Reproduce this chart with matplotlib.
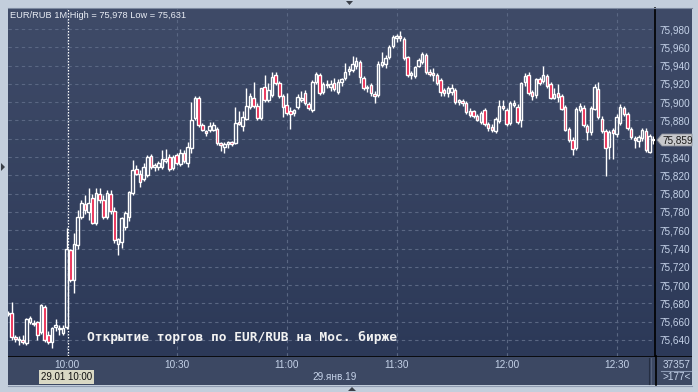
import matplotlib
matplotlib.use("Agg")
import numpy as np
import matplotlib.pyplot as plt
from matplotlib.colors import LinearSegmentedColormap
from matplotlib.patches import Rectangle, Polygon
from matplotlib.lines import Line2D

# EUR/RUB, 1-minute candles, 29.01.2019, 09:44 .. 12:40 (177 bars)
opens = [
    75.670, 75.670, 75.643, 75.640, 75.640, 75.637, 75.660, 75.659, 75.660, 75.649,
    75.676, 75.646, 75.638, 75.654, 75.653, 75.648, 75.654, 75.738, 75.706, 75.744,
    75.774, 75.789, 75.780, 75.795, 75.768, 75.800, 75.793, 75.774, 75.800, 75.781,
    75.745, 75.747, 75.764, 75.774, 75.801, 75.827, 75.822, 75.816, 75.820, 75.841,
    75.829, 75.829, 75.829, 75.836, 75.840, 75.828, 75.842, 75.832, 75.845, 75.834,
    75.850, 75.883, 75.905, 75.875, 75.868, 75.870, 75.870, 75.871, 75.855, 75.851,
    75.854, 75.856, 75.855, 75.878, 75.874, 75.882, 75.895, 75.905, 75.896, 75.883,
    75.917, 75.902, 75.908, 75.930, 75.921, 75.907, 75.897, 75.890, 75.888, 75.895,
    75.902, 75.910, 75.898, 75.891, 75.922, 75.930, 75.911, 75.920, 75.917, 75.921,
    75.911, 75.922, 75.926, 75.934, 75.935, 75.940, 75.944, 75.926, 75.915, 75.919,
    75.909, 75.908, 75.941, 75.942, 75.949, 75.961, 75.970, 75.972, 75.969, 75.949,
    75.930, 75.929, 75.940, 75.944, 75.952, 75.933, 75.932, 75.930, 75.924, 75.913,
    75.910, 75.911, 75.913, 75.900, 75.901, 75.899, 75.890, 75.890, 75.885, 75.878,
    75.892, 75.876, 75.873, 75.869, 75.879, 75.896, 75.892, 75.877, 75.897, 75.895,
    75.880, 75.922, 75.930, 75.911, 75.908, 75.925, 75.923, 75.929, 75.920, 75.905,
    75.910, 75.907, 75.895, 75.871, 75.859, 75.850, 75.892, 75.894, 75.874, 75.867,
    75.893, 75.914, 75.882, 75.868, 75.851, 75.870, 75.865, 75.877, 75.894, 75.887,
    75.871, 75.861, 75.858, 75.861, 75.869, 75.846, 75.860,
]
highs = [
    75.672, 75.682, 75.645, 75.644, 75.645, 75.664, 75.666, 75.662, 75.661, 75.679,
    75.678, 75.650, 75.654, 75.663, 75.656, 75.656, 75.762, 75.740, 75.757, 75.782,
    75.793, 75.798, 75.806, 75.800, 75.806, 75.806, 75.799, 75.804, 75.804, 75.785,
    75.752, 75.775, 75.781, 75.803, 75.837, 75.831, 75.826, 75.833, 75.842, 75.843,
    75.834, 75.836, 75.848, 75.849, 75.843, 75.842, 75.845, 75.849, 75.848, 75.856,
    75.900, 75.907, 75.907, 75.877, 75.870, 75.878, 75.878, 75.873, 75.857, 75.856,
    75.858, 75.858, 75.895, 75.890, 75.890, 75.915, 75.910, 75.922, 75.899, 75.916,
    75.930, 75.921, 75.933, 75.933, 75.923, 75.909, 75.910, 75.895, 75.893, 75.909,
    75.912, 75.913, 75.900, 75.924, 75.933, 75.932, 75.922, 75.924, 75.924, 75.926,
    75.925, 75.927, 75.943, 75.940, 75.951, 75.949, 75.946, 75.929, 75.919, 75.921,
    75.912, 75.945, 75.955, 75.952, 75.962, 75.973, 75.975, 75.978, 75.971, 75.951,
    75.934, 75.940, 75.948, 75.955, 75.954, 75.936, 75.937, 75.932, 75.926, 75.915,
    75.918, 75.920, 75.915, 75.903, 75.904, 75.901, 75.894, 75.892, 75.887, 75.890,
    75.894, 75.878, 75.876, 75.884, 75.902, 75.902, 75.894, 75.901, 75.902, 75.898,
    75.922, 75.932, 75.933, 75.913, 75.927, 75.928, 75.940, 75.931, 75.922, 75.916,
    75.920, 75.909, 75.897, 75.873, 75.862, 75.895, 75.899, 75.897, 75.876, 75.896,
    75.920, 75.922, 75.885, 75.871, 75.870, 75.872, 75.887, 75.898, 75.896, 75.889,
    75.873, 75.863, 75.864, 75.872, 75.872, 75.865, 75.863,
]
lows = [
    75.666, 75.640, 75.638, 75.635, 75.636, 75.635, 75.658, 75.655, 75.640, 75.647,
    75.638, 75.636, 75.631, 75.650, 75.645, 75.646, 75.652, 75.703, 75.691, 75.740,
    75.772, 75.778, 75.771, 75.767, 75.766, 75.790, 75.772, 75.772, 75.778, 75.746,
    75.733, 75.741, 75.760, 75.770, 75.799, 75.820, 75.807, 75.814, 75.818, 75.827,
    75.825, 75.826, 75.827, 75.834, 75.825, 75.826, 75.831, 75.830, 75.834, 75.829,
    75.845, 75.880, 75.873, 75.868, 75.863, 75.867, 75.868, 75.853, 75.847, 75.844,
    75.850, 75.852, 75.854, 75.875, 75.868, 75.880, 75.893, 75.894, 75.881, 75.881,
    75.900, 75.900, 75.906, 75.919, 75.905, 75.884, 75.886, 75.871, 75.885, 75.893,
    75.900, 75.897, 75.891, 75.889, 75.920, 75.908, 75.909, 75.916, 75.912, 75.912,
    75.909, 75.918, 75.924, 75.930, 75.933, 75.936, 75.921, 75.913, 75.911, 75.907,
    75.899, 75.906, 75.938, 75.937, 75.947, 75.959, 75.966, 75.967, 75.946, 75.928,
    75.925, 75.926, 75.938, 75.942, 75.931, 75.929, 75.923, 75.919, 75.907, 75.907,
    75.906, 75.908, 75.898, 75.897, 75.896, 75.887, 75.884, 75.883, 75.879, 75.876,
    75.874, 75.869, 75.867, 75.866, 75.877, 75.891, 75.874, 75.875, 75.895, 75.876,
    75.873, 75.918, 75.908, 75.902, 75.905, 75.919, 75.921, 75.916, 75.903, 75.903,
    75.900, 75.891, 75.868, 75.857, 75.842, 75.848, 75.889, 75.873, 75.859, 75.864,
    75.891, 75.882, 75.866, 75.819, 75.838, 75.838, 75.862, 75.875, 75.885, 75.870,
    75.860, 75.850, 75.851, 75.858, 75.846, 75.844, 75.854,
]
closes = [
    75.668, 75.643, 75.641, 75.640, 75.638, 75.663, 75.664, 75.658, 75.645, 75.678,
    75.640, 75.638, 75.653, 75.656, 75.652, 75.653, 75.740, 75.706, 75.745, 75.774,
    75.790, 75.782, 75.790, 75.768, 75.801, 75.793, 75.774, 75.801, 75.781, 75.749,
    75.750, 75.773, 75.779, 75.802, 75.826, 75.822, 75.813, 75.829, 75.840, 75.829,
    75.831, 75.833, 75.838, 75.838, 75.827, 75.840, 75.833, 75.845, 75.836, 75.851,
    75.880, 75.905, 75.875, 75.870, 75.866, 75.874, 75.875, 75.855, 75.853, 75.854,
    75.857, 75.854, 75.877, 75.876, 75.884, 75.896, 75.907, 75.896, 75.883, 75.915,
    75.902, 75.913, 75.928, 75.921, 75.907, 75.895, 75.888, 75.887, 75.891, 75.906,
    75.905, 75.899, 75.894, 75.922, 75.931, 75.910, 75.920, 75.919, 75.920, 75.914,
    75.922, 75.925, 75.933, 75.936, 75.942, 75.945, 75.928, 75.915, 75.917, 75.910,
    75.907, 75.942, 75.944, 75.948, 75.960, 75.971, 75.972, 75.970, 75.948, 75.930,
    75.932, 75.938, 75.946, 75.953, 75.933, 75.931, 75.930, 75.921, 75.911, 75.910,
    75.915, 75.916, 75.900, 75.902, 75.899, 75.889, 75.886, 75.885, 75.881, 75.888,
    75.876, 75.872, 75.870, 75.882, 75.896, 75.894, 75.876, 75.899, 75.899, 75.878,
    75.921, 75.929, 75.910, 75.907, 75.925, 75.921, 75.930, 75.918, 75.905, 75.909,
    75.906, 75.893, 75.870, 75.859, 75.849, 75.893, 75.896, 75.875, 75.867, 75.894,
    75.917, 75.884, 75.869, 75.850, 75.867, 75.866, 75.884, 75.895, 75.887, 75.872,
    75.862, 75.859, 75.862, 75.870, 75.848, 75.863, 75.859,
]

price_ticks = [75.64, 75.66, 75.68, 75.70, 75.72, 75.74, 75.76, 75.78, 75.80,
               75.82, 75.84, 75.86, 75.88, 75.90, 75.92, 75.94, 75.96, 75.98]
time_pos = [16, 46, 76, 106, 136, 166]          # bar index of each time label
time_labels = ['10:00', '10:30', '11:00', '11:30', '12:00', '12:30']
last_price = 75.859

W, H = 698, 392
def box(x0, y0, x1, y1):
    return [x0 / W, 1 - y1 / H, (x1 - x0) / W, (y1 - y0) / H]

lab_font = dict(family='Liberation Sans', size=7.2, color='#c5d2e8')
xlim = (0.0, 176.5)
ylim = (75.6225, 76.003)
bg = LinearSegmentedColormap.from_list('bg', ['#3f4b68', '#2c3958'])
grad = np.linspace(0, 1, 256).reshape(-1, 1)

fig = plt.figure(figsize=(6.98, 3.92), dpi=100)
fig.patch.set_facecolor('#c3cedc')

# right price panel
pax = fig.add_axes(box(655, 8, 692, 356))
pax.imshow(grad, cmap=bg, aspect='auto', extent=[0, 1, 0, 1])
pax.set_axis_off()

# bottom time panel
bax = fig.add_axes(box(8, 356, 692, 385))
bax.set_facecolor('#3c4863')
bax.set_xlim(0, 1)
bax.set_ylim(0, 1)
bax.set_xticks([])
bax.set_yticks([])
for s in bax.spines.values():
    s.set_visible(False)
bax.axhline(1, color='black', lw=1.2)

# main candle area
ax = fig.add_axes(box(8, 8, 655, 356))
ax.imshow(grad, cmap=bg, aspect='auto', extent=[xlim[0], xlim[1], ylim[0], ylim[1]], zorder=0)
ax.set_xlim(*xlim)
ax.set_ylim(*ylim)

# the 75,860 label sits under the last-price tag, so it is left blank
ylabels = [f'{p:.3f}'.replace('.', ',') for p in price_ticks]
ylabels = ['' if abs(p - last_price) < 0.01 else s for p, s in zip(price_ticks, ylabels)]
ax.set_yticks(price_ticks)
ax.set_yticklabels(ylabels, fontdict=lab_font)
ax.yaxis.tick_right()
ax.tick_params(axis='y', length=0, pad=3)
ax.set_xticks(time_pos)
ax.set_xticklabels([])
ax.tick_params(axis='x', length=0)
ax.grid(True, color='#5a6783', lw=0.8, ls=(0, (3, 3)))
for s in ['top', 'left']:
    ax.spines[s].set_visible(False)
ax.spines['right'].set_color('black')
ax.spines['right'].set_linewidth(1.2)
ax.spines['bottom'].set_visible(False)

# crosshair at the opening bar
ax.axvline(time_pos[0] + 0.3, color='white', lw=0.9, ls=(0, (1.2, 1.2)), zorder=1.5)

bw = 0.68
for i, (o, h, l, c) in enumerate(zip(opens, highs, lows, closes)):
    top, bot = max(o, c), min(o, c)
    ax.vlines(i, top, h, color='white', lw=1.0, zorder=2)
    ax.vlines(i, l, bot, color='white', lw=1.0, zorder=2)
    face = 'none' if c >= o else '#e8103c'
    ax.add_patch(Rectangle((i - bw / 2, bot), bw, max(top - bot, 0.0006),
                           facecolor=face, edgecolor='white', lw=1.0, zorder=3))

ax.text(2 / 647, 1 - 7 / 348, 'EUR/RUB 1M High = 75,978 Low = 75,631',
        transform=ax.transAxes, ha='left', va='center',
        family='Liberation Sans', size=6.7, color='#e8ecf4', zorder=5)
ax.text((87 - 8) / 647, 1 - (337 - 8) / 348, 'Открытие торгов по EUR/RUB на Мос. бирже',
        transform=ax.transAxes, ha='left', va='center',
        family='DejaVu Sans Mono', size=9.3, weight='bold', color='#f2f2f2', zorder=5)

# time labels in the bottom panel
def bx(i):
    return (i - xlim[0]) / (xlim[1] - xlim[0]) * 647 / 684
for p, t in zip(time_pos, time_labels):
    bax.text(bx(p), 0.7, t, ha='center', va='center', **lab_font)
bax.text(bx(89.2), 0.28, '29.янв.19', ha='center', va='center', **lab_font)
bax.text(bx(time_pos[0]), 0.27, '29.01 10:00', ha='center', va='center',
         family='Liberation Sans', size=7.0, color='#101010',
         bbox=dict(boxstyle='square,pad=0.2', fc='#d9d8c4', ec='none'))
bax.text((677 - 8) / 684, 0.7, '37357', ha='center', va='center', **lab_font)
bax.text((677 - 8) / 684, 0.26, '>177<', ha='center', va='center', **lab_font)

def fl(xs, ys, **kw):
    fig.add_artist(Line2D([x / W for x in xs], [1 - y / H for y in ys],
                          transform=fig.transFigure, **kw))
fl([661, 691], [371, 371], color='#8c9ab4', lw=0.8)
fl([649, 649], [358, 384], color='#252e42', lw=0.8)
fl([651, 651], [358, 384], color='#56627c', lw=0.8)
fl([655.5, 655.5], [356, 385], color='black', lw=1.2)
fl([8, 692], [7.5, 7.5], color='#7d8aa0', lw=0.8)
fl([8, 692], [385.5, 385.5], color='#8e9bb0', lw=0.8)

# last price tag
tag_y = 140
pts = [(657, tag_y), (662, tag_y - 6), (692, tag_y - 6), (692, tag_y + 6), (662, tag_y + 6)]
fig.add_artist(Polygon([(x / W, 1 - y / H) for x, y in pts], closed=True,
                       transform=fig.transFigure, fc='#c8c9cc', ec='#8a8f99', lw=0.6, zorder=5))
fig.text(663 / W, 1 - tag_y / H, f'{last_price:.3f}'.replace('.', ','), ha='left', va='center',
         family='Liberation Sans', size=7.2, color='#1a1a1a', zorder=6)

# small scroll arrows of the terminal window
def tri(pts, color='#3a3f48'):
    fig.add_artist(Polygon([(x / W, 1 - y / H) for x, y in pts], closed=True,
                           transform=fig.transFigure, fc=color, ec='none', zorder=6))
tri([(346, 1), (353, 1), (349.5, 5)])
tri([(1, 163), (1, 171), (5, 167)])
tri([(348, 391), (356, 391), (352, 387)])

fig.savefig('out.png', dpi=100, facecolor=fig.get_facecolor())
